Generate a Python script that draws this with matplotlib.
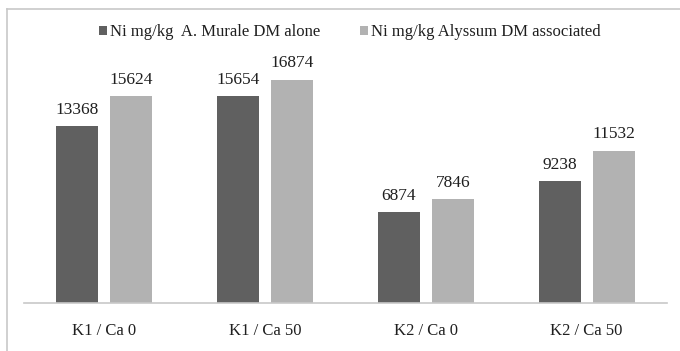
import numpy as np
import matplotlib
matplotlib.use("Agg")
import matplotlib.pyplot as plt
from matplotlib.lines import Line2D

# Ni content per treatment
treatments = ["K1 / Ca 0", "K1 / Ca 50", "K2 / Ca 0", "K2 / Ca 50"]
murale_alone = [13368, 15654, 6874, 9238]
alyssum_assoc = [15624, 16874, 7846, 11532]
series_names = ["Ni mg/kg  A. Murale DM alone", "Ni mg/kg Alyssum DM associated"]

plt.rcParams["font.family"] = ["Liberation Serif", "DejaVu Serif"]
text_col = "#1f1f1f"

fig = plt.figure(figsize=(6.8, 3.51), dpi=100)
ax = fig.add_axes([24 / 680, 1 - 303.3 / 351, 643 / 680, (303.3 - 38.4) / 351])

x = np.arange(len(treatments))
w = 0.262
off = 0.168
b1 = ax.bar(x - off, murale_alone, w, color="#606060", label=series_names[0])
b2 = ax.bar(x + off, alyssum_assoc, w, color="#b2b2b2", label=series_names[1])

for bars in (b1, b2):
    ax.bar_label(bars, labels=[str(v) for v in bars.datavalues], padding=6,
                 fontsize=12.5, color=text_col)

ax.set_xlim(-0.5, len(treatments) - 0.5)
ax.set_ylim(0, 20000)
ax.set_xticks(x)
ax.set_xticklabels(treatments, fontsize=12, color=text_col)
ax.tick_params(axis="x", length=0, pad=14)
ax.set_yticks([])
for side in ("top", "right", "left"):
    ax.spines[side].set_visible(False)
ax.spines["bottom"].set_color("#c8c8c8")
ax.spines["bottom"].set_linewidth(1.2)

leg = fig.legend(handles=[b1, b2], loc="center", bbox_to_anchor=(350 / 680, 1 - 32 / 351),
                 ncol=2, frameon=False, fontsize=12, handlelength=0.45, handleheight=0.45,
                 handletextpad=0.2, columnspacing=2.4)
for t in leg.get_texts():
    t.set_color(text_col)

# chart border (left and top edges)
fig.add_artist(Line2D([7 / 680, 7 / 680], [0, 1 - 9.3 / 351], transform=fig.transFigure,
                      color="#c8c8c8", lw=1.2))
fig.add_artist(Line2D([7 / 680, 1], [1 - 9.3 / 351, 1 - 9.3 / 351], transform=fig.transFigure,
                      color="#c8c8c8", lw=1.2))

fig.savefig("out.png", dpi=100)
